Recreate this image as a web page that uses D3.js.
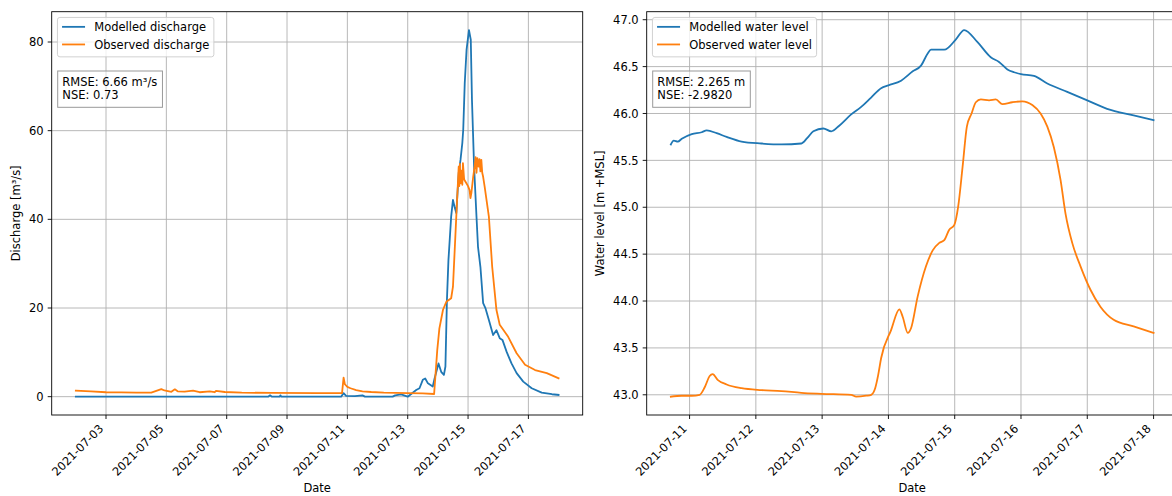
<!DOCTYPE html>
<html lang="en">
<head>
<meta charset="UTF-8">
<title>Discharge and water level</title>
<script src="https://d3js.org/d3.v7.min.js"></script>
<style>
  body { margin: 0; background: #fff; }
  svg { display: block; font-family: "DejaVu Sans", sans-serif; }
  text { fill: #000; font-size: 11.5px; }
</style>
</head>
<body>
<div id="chart"></div>
<script>
// ---- data ----
const modelledQ = [
  ["2021-07-02 00:00", 0.0], ["2021-07-08 09:00", 0.0], ["2021-07-08 10:30", 0.3], ["2021-07-08 12:00", 0.0],
  ["2021-07-08 18:00", 0.0], ["2021-07-08 18:45", 0.3], ["2021-07-08 19:30", 0.0], ["2021-07-10 19:00", 0.0],
  ["2021-07-10 21:00", 0.8], ["2021-07-10 23:00", 0.2], ["2021-07-11 06:00", 0.1], ["2021-07-11 12:00", 0.3],
  ["2021-07-11 14:00", 0.0], ["2021-07-12 12:00", 0.0], ["2021-07-12 14:00", 0.3], ["2021-07-12 18:45", 0.5],
  ["2021-07-13 00:00", 0.0], ["2021-07-13 06:45", 1.5], ["2021-07-13 09:22", 1.9], ["2021-07-13 12:00", 3.8],
  ["2021-07-13 13:55", 4.1], ["2021-07-13 16:05", 3.0], ["2021-07-13 19:55", 2.3], ["2021-07-13 21:22", 4.1],
  ["2021-07-14 00:30", 7.5], ["2021-07-14 02:38", 5.6], ["2021-07-14 04:48", 4.9], ["2021-07-14 06:00", 6.8],
  ["2021-07-14 07:12", 21.8], ["2021-07-14 08:24", 30.8], ["2021-07-14 10:34", 40.6], ["2021-07-14 12:00", 44.4],
  ["2021-07-14 13:12", 42.9], ["2021-07-14 14:38", 41.4], ["2021-07-14 16:34", 50.4], ["2021-07-14 18:00", 53.4],
  ["2021-07-14 19:26", 57.2], ["2021-07-14 20:10", 60.2], ["2021-07-14 21:22", 70.7], ["2021-07-14 22:48", 78.2],
  ["2021-07-15 00:43", 82.7], ["2021-07-15 02:10", 80.5], ["2021-07-15 03:07", 66.9], ["2021-07-15 04:48", 51.9],
  ["2021-07-15 06:43", 40.6], ["2021-07-15 07:55", 33.8], ["2021-07-15 09:50", 29.3], ["2021-07-15 12:00", 21.1],
  ["2021-07-15 13:55", 19.9], ["2021-07-15 16:34", 17.3], ["2021-07-15 19:55", 13.9], ["2021-07-15 22:34", 15.0],
  ["2021-07-16 01:12", 13.2], ["2021-07-16 03:22", 12.8], ["2021-07-16 06:43", 10.1], ["2021-07-16 10:34", 7.5],
  ["2021-07-16 14:38", 5.3], ["2021-07-16 19:55", 3.4], ["2021-07-17 02:38", 1.9], ["2021-07-17 10:34", 0.9],
  ["2021-07-17 18:43", 0.55], ["2021-07-18 00:00", 0.4]
];

const observedQ = [
  ["2021-07-02 00:00", 1.35], ["2021-07-02 12:00", 1.2], ["2021-07-03 00:00", 1.0], ["2021-07-03 12:00", 0.95],
  ["2021-07-04 00:00", 0.9], ["2021-07-04 12:00", 0.9], ["2021-07-04 16:00", 1.3], ["2021-07-04 20:00", 1.7],
  ["2021-07-04 22:30", 1.4], ["2021-07-05 04:00", 1.1], ["2021-07-05 06:45", 1.65], ["2021-07-05 09:00", 1.2],
  ["2021-07-05 14:30", 1.15], ["2021-07-05 21:15", 1.35], ["2021-07-06 02:30", 1.0], ["2021-07-06 10:30", 1.2],
  ["2021-07-06 14:30", 1.0], ["2021-07-06 15:30", 1.3], ["2021-07-06 22:30", 1.05], ["2021-07-07 12:00", 0.9],
  ["2021-07-08 12:00", 0.85], ["2021-07-10 00:00", 0.8], ["2021-07-10 19:45", 0.8], ["2021-07-10 21:00", 4.3],
  ["2021-07-10 22:00", 2.8], ["2021-07-11 00:00", 2.2], ["2021-07-11 02:30", 1.9], ["2021-07-11 07:00", 1.5],
  ["2021-07-11 12:00", 1.2], ["2021-07-11 19:00", 1.05], ["2021-07-12 05:00", 0.9], ["2021-07-13 00:00", 0.8],
  ["2021-07-13 12:00", 0.75], ["2021-07-13 21:00", 0.6], ["2021-07-13 23:30", 10.5], ["2021-07-14 01:12", 15.4],
  ["2021-07-14 04:05", 19.6], ["2021-07-14 06:43", 21.4], ["2021-07-14 10:34", 22.2], ["2021-07-14 12:00", 24.8],
  ["2021-07-14 14:38", 40.6], ["2021-07-14 16:34", 51.9], ["2021-07-14 17:02", 47.5], ["2021-07-14 17:31", 52.5],
  ["2021-07-14 18:00", 48.1], ["2021-07-14 18:43", 51.0], ["2021-07-14 19:26", 47.8], ["2021-07-14 19:55", 52.7],
  ["2021-07-14 20:53", 49.0], ["2021-07-14 22:34", 48.2], ["2021-07-15 00:00", 47.5], ["2021-07-15 01:12", 46.6],
  ["2021-07-15 01:55", 44.8], ["2021-07-15 02:38", 45.9], ["2021-07-15 04:05", 49.6], ["2021-07-15 05:17", 52.0],
  ["2021-07-15 06:00", 54.0], ["2021-07-15 06:43", 50.5], ["2021-07-15 07:26", 53.8], ["2021-07-15 08:24", 51.9],
  ["2021-07-15 09:07", 53.6], ["2021-07-15 09:50", 50.8], ["2021-07-15 10:34", 53.4], ["2021-07-15 11:17", 50.5],
  ["2021-07-15 12:00", 49.6], ["2021-07-15 13:12", 47.4], ["2021-07-15 16:34", 40.6], ["2021-07-15 19:12", 29.3],
  ["2021-07-15 22:34", 19.6], ["2021-07-16 01:12", 16.2], ["2021-07-16 07:55", 13.5], ["2021-07-16 14:38", 9.8],
  ["2021-07-16 21:22", 7.2], ["2021-07-17 05:17", 6.0], ["2021-07-17 14:38", 5.3], ["2021-07-18 00:00", 4.15]
];

const modelledWL = [
  ["2021-07-10 17:13", 45.67], ["2021-07-10 18:17", 45.71], ["2021-07-10 19:44", 45.70], ["2021-07-10 21:11", 45.73],
  ["2021-07-11 00:47", 45.78], ["2021-07-11 04:24", 45.80], ["2021-07-11 06:12", 45.82], ["2021-07-11 09:49", 45.79],
  ["2021-07-11 13:25", 45.75], ["2021-07-11 18:50", 45.70], ["2021-07-12 02:02", 45.68], ["2021-07-12 09:16", 45.67],
  ["2021-07-12 16:29", 45.68], ["2021-07-12 18:39", 45.74], ["2021-07-12 20:49", 45.81], ["2021-07-13 00:25", 45.84],
  ["2021-07-13 03:19", 45.81], ["2021-07-13 06:11", 45.87], ["2021-07-13 10:31", 45.99], ["2021-07-13 14:08", 46.07],
  ["2021-07-13 17:44", 46.17], ["2021-07-13 21:21", 46.27], ["2021-07-14 00:00", 46.30], ["2021-07-14 04:35", 46.35],
  ["2021-07-14 08:48", 46.45], ["2021-07-14 11:48", 46.51], ["2021-07-14 14:13", 46.64], ["2021-07-14 15:25", 46.68],
  ["2021-07-14 20:13", 46.68], ["2021-07-15 00:26", 46.79], ["2021-07-15 03:26", 46.89], ["2021-07-15 08:16", 46.76],
  ["2021-07-15 13:03", 46.60], ["2021-07-15 16:03", 46.55], ["2021-07-15 19:05", 46.47], ["2021-07-15 21:29", 46.44],
  ["2021-07-16 00:00", 46.42], ["2021-07-16 04:41", 46.40], ["2021-07-16 09:32", 46.32], ["2021-07-16 16:45", 46.23],
  ["2021-07-17 00:00", 46.14], ["2021-07-17 07:10", 46.05], ["2021-07-17 16:47", 45.98], ["2021-07-18 00:00", 45.93]
];

const observedWL = [
  ["2021-07-10 17:13", 42.98], ["2021-07-10 21:11", 42.99], ["2021-07-11 00:47", 42.99], ["2021-07-11 03:41", 43.00],
  ["2021-07-11 05:29", 43.08], ["2021-07-11 07:17", 43.20], ["2021-07-11 08:22", 43.22], ["2021-07-11 10:10", 43.16],
  ["2021-07-11 13:25", 43.11], ["2021-07-11 18:50", 43.07], ["2021-07-12 02:03", 43.05], ["2021-07-12 09:16", 43.04],
  ["2021-07-12 16:29", 43.02], ["2021-07-12 23:43", 43.01], ["2021-07-13 10:31", 43.00], ["2021-07-13 12:20", 42.98],
  ["2021-07-13 15:57", 42.99], ["2021-07-13 17:46", 43.00], ["2021-07-13 19:12", 43.07], ["2021-07-13 20:17", 43.21],
  ["2021-07-13 21:21", 43.39], ["2021-07-14 00:58", 43.69], ["2021-07-14 03:58", 43.91], ["2021-07-14 05:11", 43.83],
  ["2021-07-14 07:00", 43.66], ["2021-07-14 08:11", 43.71], ["2021-07-14 10:36", 44.05], ["2021-07-14 13:36", 44.37],
  ["2021-07-14 16:02", 44.54], ["2021-07-14 18:25", 44.62], ["2021-07-14 20:13", 44.65], ["2021-07-14 22:01", 44.76],
  ["2021-07-14 23:49", 44.81], ["2021-07-15 01:16", 45.01], ["2021-07-15 02:51", 45.43], ["2021-07-15 04:24", 45.86],
  ["2021-07-15 06:06", 46.00], ["2021-07-15 07:39", 46.12], ["2021-07-15 09:27", 46.15], ["2021-07-15 12:27", 46.14],
  ["2021-07-15 14:53", 46.15], ["2021-07-15 17:17", 46.10], ["2021-07-15 20:54", 46.12], ["2021-07-16 00:30", 46.13],
  ["2021-07-16 04:06", 46.09], ["2021-07-16 07:06", 46.00], ["2021-07-16 09:32", 45.86], ["2021-07-16 11:54", 45.64],
  ["2021-07-16 14:20", 45.29], ["2021-07-16 16:08", 44.93], ["2021-07-16 18:33", 44.62], ["2021-07-16 21:33", 44.37],
  ["2021-07-17 01:09", 44.12], ["2021-07-17 04:45", 43.94], ["2021-07-17 09:33", 43.80], ["2021-07-17 16:47", 43.73],
  ["2021-07-18 00:00", 43.66]
];

const leftDateTicks = ["2021-07-03", "2021-07-05", "2021-07-07", "2021-07-09", "2021-07-11", "2021-07-13", "2021-07-15", "2021-07-17"];
const rightDateTicks = ["2021-07-11", "2021-07-12", "2021-07-13", "2021-07-14", "2021-07-15", "2021-07-16", "2021-07-17", "2021-07-18"];
const leftValueTicks = [0, 20, 40, 60, 80];
const rightValueTicks = [43.0, 43.5, 44.0, 44.5, 45.0, 45.5, 46.0, 46.5, 47.0];

const leftNames = ["Modelled discharge", "Observed discharge"];
const rightNames = ["Modelled water level", "Observed water level"];
const leftStats = ["RMSE: 6.66 m\u00b3/s", "NSE: 0.73"];
const rightStats = ["RMSE: 2.265 m", "NSE: -2.9820"];

// ---- drawing ----
const W = 1172, H = 496;
const colors = ["#1f77b4", "#ff7f0e"];
const parseTime = d3.timeParse("%Y-%m-%d %H:%M");
const parseDay = d3.timeParse("%Y-%m-%d");
const fmtDay = d3.timeFormat("%Y-%m-%d");

const svg = d3.select("#chart").append("svg")
  .attr("width", W).attr("height", H);

// matplotlib style 5% margins
function padded(ext) {
  const span = ext[1] - ext[0];
  return [ext[0] - span * 0.05, ext[1] + span * 0.05];
}

function panel(opt) {
  const { x0, x1, y0, y1 } = opt;
  const series = opt.series.map(s => s.map(d => ({ t: parseTime(d[0]), v: d[1] })));
  const all = series.flat();

  const tExt = d3.extent(all, d => d.t).map(Number);
  const x = d3.scaleTime().domain(padded(tExt).map(v => new Date(v))).range([x0, x1]);
  const y = d3.scaleLinear().domain(padded(d3.extent(all, d => d.v))).range([y1, y0]);

  const g = svg.append("g");
  const clipId = "clip" + opt.id;
  svg.append("clipPath").attr("id", clipId)
    .append("rect").attr("x", x0).attr("y", y0).attr("width", x1 - x0).attr("height", y1 - y0);

  const xt = opt.xTicks.map(parseDay);

  // grid
  g.append("g").selectAll("line").data(xt).join("line")
    .attr("x1", d => x(d)).attr("x2", d => x(d)).attr("y1", y0).attr("y2", y1)
    .attr("stroke", "#b0b0b0").attr("stroke-width", 0.9).attr("clip-path", `url(#${clipId})`);
  g.append("g").selectAll("line").data(opt.yTicks).join("line")
    .attr("x1", x0).attr("x2", x1).attr("y1", d => y(d)).attr("y2", d => y(d))
    .attr("stroke", "#b0b0b0").attr("stroke-width", 0.9);

  // lines
  const line = d3.line().curve(opt.curve).x(d => x(d.t)).y(d => y(d.v));
  g.append("g").attr("clip-path", `url(#${clipId})`)
    .selectAll("path").data(series).join("path")
    .attr("d", line).attr("fill", "none")
    .attr("stroke", (d, i) => colors[i]).attr("stroke-width", 1.8)
    .attr("stroke-linejoin", "round").attr("stroke-linecap", "square");

  // frame
  g.append("rect").attr("x", x0).attr("y", y0).attr("width", x1 - x0).attr("height", y1 - y0)
    .attr("fill", "none").attr("stroke", "#000").attr("stroke-width", 0.9);

  // x ticks
  const xg = g.append("g");
  xg.selectAll("line").data(xt).join("line")
    .attr("x1", d => x(d)).attr("x2", d => x(d)).attr("y1", y1).attr("y2", y1 + 4)
    .attr("stroke", "#000").attr("stroke-width", 0.9);
  xg.selectAll("text").data(xt).join("text")
    .attr("transform", d => `translate(${x(d) - 1.9},${y1 + 14.3}) rotate(-45)`)
    .attr("text-anchor", "end")
    .text(d => fmtDay(d));

  // y ticks
  const yg = g.append("g");
  yg.selectAll("line").data(opt.yTicks).join("line")
    .attr("x1", x0 - 4).attr("x2", x0).attr("y1", d => y(d)).attr("y2", d => y(d))
    .attr("stroke", "#000").attr("stroke-width", 0.9);
  yg.selectAll("text").data(opt.yTicks).join("text")
    .attr("x", x0 - 8).attr("y", d => y(d)).attr("dy", "0.36em")
    .attr("text-anchor", "end")
    .text(opt.yFormat);

  // axis labels
  g.append("text").attr("x", (x0 + 531 / 2)).attr("y", 492)
    .attr("text-anchor", "middle").text("Date");
  g.append("text")
    .attr("transform", `translate(${opt.yLabelX},${(y0 + y1) / 2}) rotate(-90)`)
    .attr("text-anchor", "middle").text(opt.yLabel);

  // legend
  const lg = g.append("g").attr("transform", `translate(${x0 + 5.75},${y0 + 5.75})`);
  const box = lg.append("rect").attr("rx", 2.5).attr("ry", 2.5)
    .attr("fill", "#fff").attr("fill-opacity", 0.8)
    .attr("stroke", "#cccccc").attr("stroke-width", 0.9);
  const rows = lg.selectAll("g").data(opt.names).join("g")
    .attr("transform", (d, i) => `translate(0,${9.4 + i * 17.6})`);
  rows.append("line").attr("x1", 4.6).attr("x2", 27.6).attr("y1", 0).attr("y2", 0)
    .attr("stroke", (d, i) => colors[i]).attr("stroke-width", 1.8);
  rows.append("text").attr("x", 36.8).attr("dy", "0.36em").text(d => d);
  let lw = 0;
  rows.selectAll("text").each(function () { lw = Math.max(lw, this.getComputedTextLength()); });
  box.attr("width", 36.8 + lw + 4.6).attr("height", 39.4);

  // stats box
  const sg = g.append("g");
  const sbox = sg.append("rect").attr("fill", "#fff").attr("fill-opacity", 0.5)
    .attr("stroke", "#999").attr("stroke-width", 1);
  const st = sg.selectAll("text").data(opt.stats).join("text")
    .attr("x", x0 + 10.6).attr("y", (d, i) => 85.7 + i * 13.6).text(d => d);
  let sw = 0;
  st.each(function () { sw = Math.max(sw, this.getComputedTextLength()); });
  sbox.attr("x", x0 + 6).attr("y", 71).attr("width", sw + 9.8).attr("height", 36.3);
}

panel({
  id: "L", x0: 51.7, x1: 582.7, y0: 11.7, y1: 415,
  series: [modelledQ, observedQ], curve: d3.curveLinear,
  xTicks: leftDateTicks, yTicks: leftValueTicks, yFormat: d => d3.format("d")(d),
  yLabel: "Discharge [m\u00b3/s]", yLabelX: 20.3,
  names: leftNames, stats: leftStats
});

panel({
  id: "R", x0: 646.7, x1: 1177.7, y0: 11.7, y1: 415,
  series: [modelledWL, observedWL], curve: d3.curveMonotoneX,
  xTicks: rightDateTicks, yTicks: rightValueTicks, yFormat: d => d3.format(".1f")(d),
  yLabel: "Water level [m +MSL]", yLabelX: 604.3,
  names: rightNames, stats: rightStats
});
</script>
</body>
</html>
